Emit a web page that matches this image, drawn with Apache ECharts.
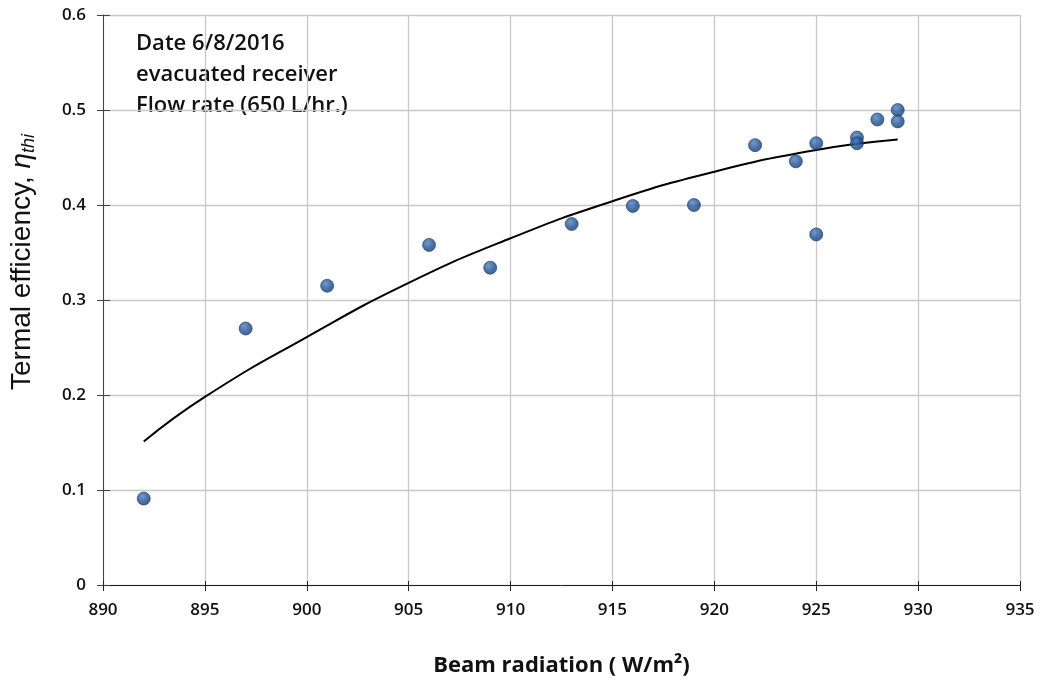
<!DOCTYPE html>
<html>
<head>
<meta charset="utf-8">
<script src="https://cdn.jsdelivr.net/npm/echarts@6/dist/echarts.min.js"></script>
<style>
  html, body { margin: 0; padding: 0; background: #fff; }
  #chart { width: 1045px; height: 686px; }
</style>
</head>
<body>
<div id="chart"></div>
<script>
// measured points: beam radiation (W/m2) vs thermal efficiency
var radiation = [892, 897, 901, 906, 909, 913, 916, 919, 922, 924, 925, 925, 927, 927, 928, 929, 929]
var efficiency = [0.091, 0.27, 0.315, 0.358, 0.334, 0.38, 0.399, 0.4, 0.463, 0.446, 0.465, 0.369, 0.471, 0.465, 0.49, 0.5, 0.488]
// trend line
var trendX = [892, 895, 900, 905, 910, 915, 920, 925, 929]
var trendY = [0.151, 0.198, 0.261, 0.318, 0.365, 0.404, 0.435, 0.458, 0.469]
var noteLines = ['Date 6/8/2016', 'evacuated receiver', 'Flow rate (650 L/hr.)']

var pts = []
for (var i = 0; i < radiation.length; i++) {
  pts.push([radiation[i], efficiency[i]])
}
var trend = []
for (var j = 0; j < trendX.length; j++) {
  trend.push([trendX[j], trendY[j]])
}

var labelFont = { fontFamily: 'Open Sans', fontSize: 17, fontWeight: 600, color: '#111' }

var chart = echarts.init(document.getElementById('chart'))
chart.setOption({
  animation: false,
  grid: { left: 103, right: 25, top: 15, bottom: 101 },
  xAxis: [{
    type: 'value',
    min: 890,
    max: 935,
    interval: 5,
    name: 'Beam radiation ( W/m²)',
    nameLocation: 'middle',
    nameGap: 70,
    nameTextStyle: { fontFamily: 'Open Sans', fontSize: 22, fontWeight: 'bold', color: '#111' },
    axisLine: { lineStyle: { color: '#222', width: 1 } },
    axisTick: { show: true, length: 6, lineStyle: { color: '#222' } },
    axisLabel: Object.assign({ margin: 17 }, labelFont),
    splitLine: { show: true, lineStyle: { color: '#c8c8c8', width: 1.3 } }
  }, {
    // inner half of the crossing ticks
    type: 'value', min: 890, max: 935, interval: 5, position: 'bottom',
    axisLine: { show: false },
    axisTick: { show: true, inside: true, length: 4, lineStyle: { color: '#222' } },
    axisLabel: { show: false },
    splitLine: { show: false }
  }],
  yAxis: [{
    type: 'value',
    min: 0,
    max: 0.6,
    interval: 0.1,
    axisLine: { show: true, lineStyle: { color: '#444', width: 1 } },
    axisTick: { show: true, length: 6, lineStyle: { color: '#444' } },
    axisLabel: Object.assign({
      margin: 17,
      formatter: function (v) { return v === 0 ? '0' : v.toFixed(1) }
    }, labelFont),
    splitLine: { show: true, lineStyle: { color: '#c8c8c8', width: 1.3 } }
  }, {
    type: 'value', min: 0, max: 0.6, interval: 0.1, position: 'left',
    axisLine: { show: false },
    axisTick: { show: true, inside: true, length: 7, lineStyle: { color: '#444' } },
    axisLabel: { show: false },
    splitLine: { show: false }
  }],
  series: [{
    type: 'line',
    data: trend,
    smooth: true,
    symbol: 'none',
    lineStyle: { color: '#000', width: 2 },
    z: 2
  }, {
    type: 'scatter',
    data: pts,
    symbolSize: 13,
    itemStyle: {
      color: new echarts.graphic.RadialGradient(0.4, 0.35, 0.7, [
        { offset: 0, color: '#4f80c2' },
        { offset: 0.55, color: '#1d4f91' },
        { offset: 1, color: '#123a6b' }
      ]),
      borderColor: '#143a68',
      borderWidth: 0.8
    },
    z: 3
  }],
  graphic: [{
    type: 'text',
    left: 136,
    top: 28,
    style: {
      text: noteLines.join('\n'),
      fontFamily: 'Open Sans',
      fontSize: 22,
      fontWeight: 600,
      lineHeight: 31,
      fill: '#111'
    }
  }, {
    type: 'text',
    x: 22,
    y: 262,
    rotation: Math.PI / 2,
    style: {
      text: 'Termal efficiency, {i|η}{s|thi}',
      fontFamily: 'Liberation Sans',
      fontSize: 28,
      fill: '#111',
      align: 'center',
      verticalAlign: 'middle',
      rich: {
        i: { fontFamily: 'Liberation Sans', fontSize: 28, fontStyle: 'italic', fill: '#111' },
        s: { fontFamily: 'Liberation Sans', fontSize: 18, fontStyle: 'italic', fill: '#111', padding: [13, 0, 0, 0] }
      }
    }
  }]
})
</script>
</body>
</html>
